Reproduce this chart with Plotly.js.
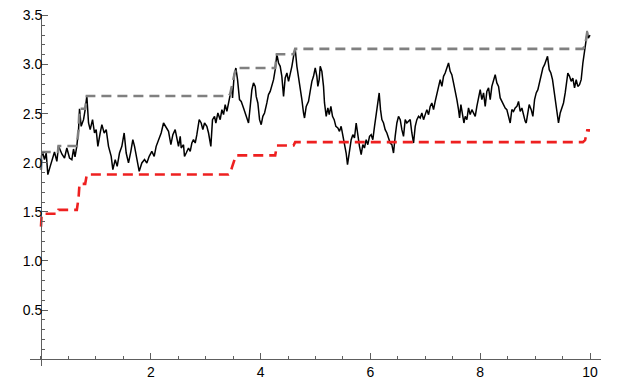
<!DOCTYPE html>
<html>
<head>
<meta charset="utf-8">
<script src="https://cdn.plot.ly/plotly-3.0.1.min.js"></script>
<style>html,body{margin:0;padding:0;background:#fff;}#chart{width:624px;height:388px;}</style>
</head>
<body>
<div id="chart"></div>
<script>
// Black path
var pathX = [0.0,0.01,0.028,0.05,0.064,0.095,0.125,0.168,0.210,0.246,0.289,0.32,0.38,0.429,0.471,0.520,0.562,0.593,0.62,0.653,
0.684,0.702,0.732,0.775,0.805,0.835,0.866,0.896,0.939,0.975,1.005,1.036,1.078,1.109,1.151,1.188,1.230,1.279,1.309,1.352,1.388,1.430,1.473,1.515,1.552,1.594,1.637,1.673,1.704,1.746,1.789,1.837,1.886,1.928,1.971,2.019,2.062,2.098,2.141,2.189,2.232,2.274,2.323,2.366,2.402,2.444,
2.475,2.505,2.536,2.554,2.596,2.614,2.645,2.687,2.718,2.748,2.778,2.809,2.839,2.882,2.918,2.948,2.979,3.021,3.052,3.094,3.124,3.161,3.185,3.222,3.264,3.295,3.325,3.355,3.386,3.416,3.446,3.477,3.489,3.519,3.550,3.580,3.616,3.647,3.689,3.720,3.750,3.780,3.811,3.841,3.871,3.902,3.920,3.950,3.981,4.011,4.041,4.072,4.114,4.144,4.175,4.205,4.236,4.266,4.296,4.327,4.357,4.387,4.418,4.448,4.479,4.509,4.539,4.570,4.600,4.630,4.661,4.691,4.721,4.752,4.782,4.800,4.831,4.873,4.903,4.934,4.964,4.995,
5.025,5.043,5.067,5.086,5.116,5.146,5.164,5.195,5.225,5.250,5.280,5.310,5.340,5.371,5.407,5.437,5.467,5.498,5.528,5.558,5.583,5.619,5.650,5.680,5.710,5.741,5.771,5.801,5.832,5.862,5.892,5.923,5.953,5.984,6.014,6.044,6.075,6.105,6.136,6.160,6.184,6.209,6.239,6.269,6.300,6.330,6.360,6.391,6.421,6.451,6.482,6.512,6.543,6.573,6.603,6.634,6.664,6.694,6.725,6.755,6.786,6.816,6.846,6.877,6.907,6.937,6.968,6.998,7.028,7.059,7.089,7.119,7.150,7.180,7.210,7.241,7.271,7.302,7.332,7.362,7.392,7.423,7.453,7.483,7.514,7.544,
7.575,7.605,7.624,7.648,7.678,7.703,7.727,7.757,7.787,7.818,7.848,7.878,7.909,7.939,7.970,8.000,8.030,8.061,8.091,8.121,8.152,8.182,8.212,8.243,8.273,8.303,8.334,8.364,8.394,8.425,8.455,8.485,8.516,8.546,8.576,8.607,8.637,8.668,8.698,8.728,8.759,8.789,8.819,8.838,8.868,8.892,8.929,8.959,8.990,9.020,9.050,9.081,9.111,9.141,9.172,9.202,9.226,9.257,9.287,9.317,9.348,9.378,9.408,9.426,9.457,9.487,9.517,9.548,9.578,9.596,9.627,9.657,9.687,9.718,9.748,9.778,9.809,9.839,9.87,9.91,9.95,9.97,10.0];
var pathY = [1.93,2.07,2.11,2.05,2.032,2.099,1.879,1.963,2.048,2.11,2.014,2.17,2.09,2.048,2.15,2.048,2.032,2.14,2.06,2.17,
2.337,2.55,2.371,2.439,2.541,2.68,2.405,2.337,2.439,2.303,2.337,2.167,2.303,2.388,2.303,2.337,2.167,2.065,1.930,2.032,1.963,2.099,2.167,2.303,2.099,1.998,2.116,2.235,2.167,2.032,1.913,1.998,2.032,1.998,2.065,2.116,2.065,2.167,2.235,2.303,2.405,2.371,2.320,2.184,2.286,2.337,
2.235,2.167,2.269,2.150,2.184,2.065,2.099,2.150,2.116,2.201,2.235,2.201,2.286,2.439,2.405,2.337,2.405,2.371,2.303,2.167,2.439,2.473,2.405,2.507,2.439,2.541,2.490,2.592,2.523,2.609,2.676,2.778,2.660,2.897,2.965,2.846,2.643,2.625,2.558,2.507,2.439,2.405,2.574,2.744,2.813,2.778,2.676,2.609,2.439,2.388,2.473,2.507,2.609,2.694,2.727,2.778,2.846,2.948,3.105,3.016,2.982,2.880,2.676,2.863,2.914,2.829,2.897,2.982,3.084,3.16,2.982,2.880,2.744,2.643,2.507,2.456,2.574,2.625,2.727,2.829,2.880,2.965,
2.880,2.778,2.846,2.982,2.931,2.778,2.609,2.473,2.558,2.490,2.574,2.473,2.439,2.371,2.354,2.320,2.371,2.286,2.184,2.099,1.981,2.133,2.235,2.286,2.252,2.405,2.269,2.167,2.083,2.184,2.150,2.235,2.184,2.269,2.286,2.235,2.371,2.507,2.609,2.711,2.541,2.439,2.405,2.337,2.303,2.252,2.201,2.184,2.099,2.269,2.405,2.473,2.439,2.337,2.269,2.439,2.405,2.422,2.439,2.303,2.201,2.371,2.439,2.473,2.456,2.507,2.439,2.490,2.541,2.490,2.574,2.609,2.541,2.625,2.711,2.778,2.846,2.778,2.880,2.914,2.965,3.016,2.931,2.897,2.813,2.744,
2.643,2.541,2.456,2.592,2.507,2.405,2.473,2.439,2.558,2.490,2.541,2.507,2.473,2.574,2.676,2.744,2.643,2.711,2.574,2.727,2.762,2.643,2.778,2.846,2.897,2.813,2.778,2.660,2.625,2.592,2.558,2.541,2.473,2.405,2.541,2.523,2.558,2.574,2.625,2.523,2.558,2.473,2.422,2.405,2.507,2.592,2.541,2.473,2.643,2.711,2.744,2.813,2.880,2.965,2.999,3.050,3.084,2.948,2.914,2.846,2.727,2.625,2.507,2.405,2.507,2.558,2.609,2.711,2.813,2.914,2.880,2.829,2.863,2.762,2.846,2.778,2.795,2.846,3.016,3.185,3.33,3.27,3.30];

// Gray dashed upper step line
var maxX = [0.0,0.01,0.028,0.31,0.32,0.653,0.684,0.702,0.805,0.835,3.416,3.446,3.477,3.519,3.550,4.266,4.296,4.600,4.630,9.87,9.91,9.95,10.0];
var maxY = [1.93,2.07,2.11,2.11,2.17,2.17,2.337,2.55,2.55,2.68,2.68,2.70,2.78,2.90,2.965,2.965,3.105,3.105,3.16,3.16,3.19,3.33,3.33];

// Red dashed lower step line
var lowX = [0.0,0.01,0.028,0.31,0.32,0.653,0.684,0.702,0.805,0.835,3.416,3.446,3.477,3.519,3.550,4.266,4.296,4.600,4.630,9.87,9.91,9.95,10.0];
var lowY = [1.35,1.45,1.48,1.48,1.52,1.52,1.64,1.785,1.785,1.88,1.88,1.89,1.95,2.03,2.075,2.075,2.175,2.175,2.21,2.21,2.23,2.33,2.33];

var xTicks = [2,4,6,8,10];
var yTicks = [0.5,1.0,1.5,2.0,2.5,3.0,3.5];

var axisCol = '#5e5e5e';
var tickFont = {family:'Liberation Sans, Arial, sans-serif', size:14, color:'#000'};

var traces = [
  {x:pathX, y:pathY, type:'scatter', mode:'lines', line:{color:'#000', width:1.5}, hoverinfo:'skip'},
  {x:maxX, y:maxY, type:'scatter', mode:'lines', line:{color:'#808080', width:2.6, dash:'10px,6px'}, hoverinfo:'skip'},
  {x:lowX, y:lowY, type:'scatter', mode:'lines', line:{color:'rgb(238,32,32)', width:2.6, dash:'10px,6px'}, hoverinfo:'skip'}
];

var layout = {
  width:624, height:388,
  margin:{l:30, r:23, t:14, b:22, pad:0},
  paper_bgcolor:'#fff', plot_bgcolor:'#fff',
  showlegend:false,
  xaxis:{
    range:[-0.2,10.2], anchor:'free', position:0.07/3.585,
    showline:true, linecolor:axisCol, linewidth:1,
    ticks:'inside', ticklen:6.5, tickwidth:1, tickcolor:axisCol,
    tickmode:'array', tickvals:xTicks,
    showgrid:false, zeroline:false, tickfont:tickFont,
    minor:{tickmode:'linear', tick0:0, dtick:0.5, ticks:'inside', ticklen:3.5, tickwidth:1, tickcolor:axisCol, showgrid:false}
  },
  yaxis:{
    range:[-0.07,3.515], anchor:'free', position:0.2/10.4,
    showline:true, linecolor:axisCol, linewidth:1,
    ticks:'inside', ticklen:6, tickwidth:1, tickcolor:axisCol,
    tickmode:'array', tickvals:yTicks, tickformat:'.1f', ticklabelstandoff:-4,
    showgrid:false, zeroline:false, tickfont:tickFont,
    minor:{tickmode:'linear', tick0:0, dtick:0.1, ticks:'inside', ticklen:3.5, tickwidth:1, tickcolor:axisCol, showgrid:false}
  }
};

Plotly.newPlot('chart', traces, layout, {staticPlot:true, displayModeBar:false});
</script>
</body>
</html>
